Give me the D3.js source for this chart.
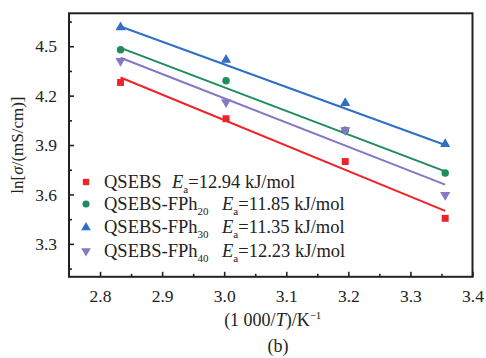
<!DOCTYPE html>
<html><head><meta charset="utf-8">
<script src="https://cdn.jsdelivr.net/npm/d3@7"></script>
<style>
body{margin:0;background:#fff;}
svg text{font-family:'Liberation Serif','Times New Roman',Times,'DejaVu Serif',serif !important;}
</style></head>
<body><svg id="c" width="486" height="358" font-family="Liberation Serif"></svg>
<script>
// ---- data ----
const xValues = [2.833, 3.003, 3.195, 3.356];
const seriesNames = ["QSEBS", "QSEBS-FPh", "QSEBS-FPh", "QSEBS-FPh"];
const seriesSubs = ["", "20", "30", "40"];
const eaValues = ["12.94", "11.85", "11.35", "12.23"];
const qsebs = [4.28, 4.06, 3.80, 3.455];
const fph20 = [4.478, 4.29, 3.99, 3.73];
const fph30 = [4.615, 4.417, 4.155, 3.906];
const fph40 = [4.411, 4.16, 3.99, 3.597];
const fitStart = [4.31, 4.49, 4.62, 4.43];
const fitEnd = [3.50, 3.74, 3.90, 3.66];
const xTicks = [2.8, 2.9, 3.0, 3.1, 3.2, 3.3, 3.4];
const xMinor = [2.85, 2.95, 3.05, 3.15, 3.25, 3.35];
const yTicks = [3.3, 3.6, 3.9, 4.2, 4.5];
const yMinor = [3.15, 3.45, 3.75, 4.05, 4.35, 4.65];
const colors = ["#ee2329", "#1f8c5c", "#2f6fc6", "#8676c6"];
const symbols = [d3.symbolSquare, d3.symbolCircle, d3.symbolTriangle, "down"];

const allSeries = [qsebs, fph20, fph30, fph40];

const svg = d3.select("#c");
const L = 69, R = 472.5, T = 13.3, B = 276.8;
const x = d3.scaleLinear().domain([2.75, 3.4]).range([L, R]);
const y = d3.scaleLinear().domain([3.1, 4.7]).range([B, T]);

// axes with inward ticks
const fmt = d3.format(".1f");
svg.append("g").attr("transform", `translate(0,${B})`)
  .call(d3.axisBottom(x).tickValues(xTicks).tickSize(-5).tickPadding(13).tickFormat(fmt));
svg.append("g").attr("transform", `translate(0,${B})`)
  .call(d3.axisBottom(x).tickValues(xMinor).tickSize(-3).tickFormat(""));
svg.append("g").attr("transform", `translate(${L},0)`)
  .call(d3.axisLeft(y).tickValues(yTicks).tickSize(-5).tickPadding(12).tickFormat(fmt));
svg.append("g").attr("transform", `translate(${L},0)`)
  .call(d3.axisLeft(y).tickValues(yMinor).tickSize(-3).tickFormat(""));
svg.selectAll("g").attr("font-family", null);
svg.selectAll(".domain").remove();
svg.selectAll(".tick line").attr("stroke", "#222").attr("stroke-width", 1.6);
svg.selectAll(".tick text").attr("font-size", 17.5).attr("fill", "#222");

// frame
svg.append("rect").attr("x", L).attr("y", T).attr("width", R - L).attr("height", B - T)
  .attr("fill", "none").attr("stroke", "#222").attr("stroke-width", 2);

// fit lines
allSeries.forEach((s, i) => {
  svg.append("line")
    .attr("x1", x(xValues[0])).attr("y1", y(fitStart[i]))
    .attr("x2", x(xValues[xValues.length - 1])).attr("y2", y(fitEnd[i]))
    .attr("stroke", colors[i]).attr("stroke-width", 2);
});

function symPath(i, size) {
  if (symbols[i] === "down") return d3.symbol().type(d3.symbolTriangle).size(size)();
  return d3.symbol().type(symbols[i]).size(size)();
}
function symTransform(i, cx, cy) {
  return symbols[i] === "down" ? `translate(${cx},${cy}) rotate(180)` : `translate(${cx},${cy})`;
}
const sizes = [48, 44, 44, 44];

allSeries.forEach((s, i) => {
  svg.append("g").selectAll("path").data(s).join("path")
    .attr("d", symPath(i, sizes[i]))
    .attr("transform", (d, j) => symTransform(i, x(xValues[j]), y(d)))
    .attr("fill", colors[i]);
});

// legend
const legY = [187.5, 209.5, 233, 256.5];
const eaX = [172, 222, 222, 222];
allSeries.forEach((s, i) => {
  svg.append("path").attr("d", symPath(i, 40))
    .attr("transform", symTransform(i, 86, legY[i] - 5.5)).attr("fill", colors[i]);
  const t = svg.append("text").attr("x", 104).attr("y", legY[i]).attr("font-size", 18.5).attr("fill", "#222");
  t.append("tspan").text(seriesNames[i]);
  if (seriesSubs[i]) t.append("tspan").attr("font-size", 11).attr("dy", 5).text(seriesSubs[i]);
  const e = svg.append("text").attr("x", eaX[i]).attr("y", legY[i]).attr("font-size", 18.5).attr("fill", "#222");
  e.append("tspan").attr("font-style", "italic").text("E");
  e.append("tspan").attr("font-size", 11).attr("dy", 5).text("a");
  e.append("tspan").attr("dy", -5).text("=" + eaValues[i] + " kJ/mol");
});

// axis titles
const xt = svg.append("text").attr("x", (L + R) / 2 + 2).attr("y", 326).attr("text-anchor", "middle")
  .attr("font-size", 18).attr("fill", "#222");
xt.append("tspan").text("(1 000/");
xt.append("tspan").attr("font-style", "italic").text("T");
xt.append("tspan").text(")/K");
xt.append("tspan").attr("font-size", 11).attr("dy", -7).text("\u22121");

const yt = svg.append("text").attr("transform", `translate(23,${(T + B) / 2}) rotate(-90)`)
  .attr("text-anchor", "middle").attr("font-size", 17).attr("fill", "#222");
yt.append("tspan").text("ln[");
yt.append("tspan").attr("font-style", "italic").text("\u03c3");
yt.append("tspan").text("/(mS/cm)]");

svg.append("text").attr("x", 278).attr("y", 352).attr("text-anchor", "middle")
  .attr("font-size", 18).attr("fill", "#222").text("(b)");
</script></body></html>
